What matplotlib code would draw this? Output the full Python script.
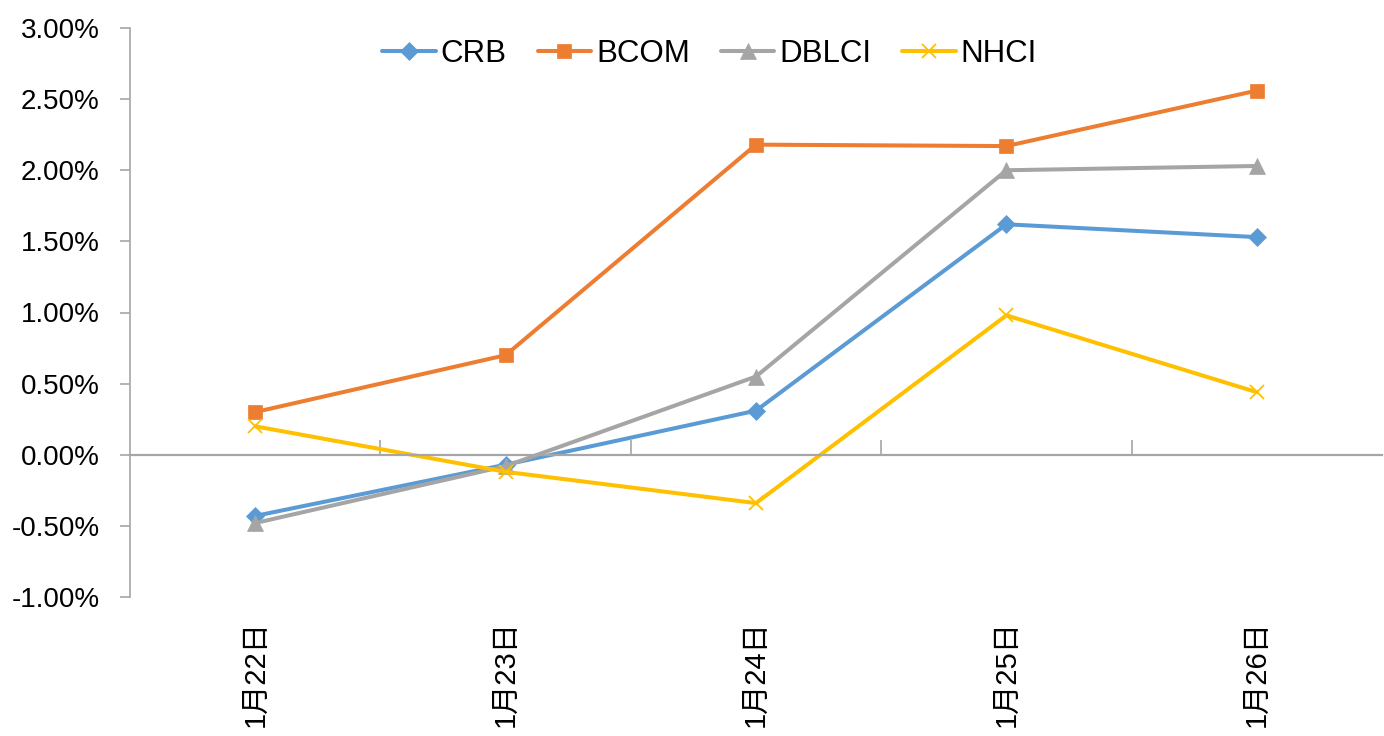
import matplotlib
matplotlib.use("Agg")
import matplotlib.pyplot as plt
from matplotlib.ticker import FuncFormatter, FixedLocator

categories = ["1月22日", "1月23日", "1月24日", "1月25日", "1月26日"]
crb = [-0.43, -0.07, 0.31, 1.62, 1.53]
bcom = [0.30, 0.70, 2.18, 2.17, 2.56]
dblci = [-0.48, -0.08, 0.55, 2.00, 2.03]
nhci = [0.20, -0.12, -0.34, 0.98, 0.44]
yticks = [-1.0, -0.5, 0.0, 0.5, 1.0, 1.5, 2.0, 2.5, 3.0]

plt.rcParams['font.family'] = ['Liberation Sans', 'Noto Sans CJK SC', 'DejaVu Sans']

W, H = 1384, 736
fig = plt.figure(figsize=(W / 100, H / 100), dpi=100)
ax = fig.add_axes([130 / W, 1 - 597 / H, (1382 - 130) / W, (597 - 28) / H])

x = list(range(len(categories)))
series = [
    ("CRB", crb, "#5B9BD5", "D", 9.5),
    ("BCOM", bcom, "#ED7D31", "s", 10),
    ("DBLCI", dblci, "#A5A5A5", "^", 11),
    ("NHCI", nhci, "#FFC000", "x", 10),
]
for name, vals, c, m, ms in series:
    ax.plot(x, vals, color=c, lw=2.9, marker=m, markersize=ms,
            markeredgewidth=1.3 if m == "x" else 0.5, markeredgecolor=c,
            markerfacecolor=c, label=name, solid_capstyle="round")

ax.set_xlim(-0.5, len(categories) - 0.5)
ax.set_ylim(-1.0, 3.0)
ax.set_yticks(yticks)
ax.yaxis.set_major_formatter(FuncFormatter(lambda v, p: f"{v:.2f}%"))

gray = "#A6A6A6"
for s in ["top", "right"]:
    ax.spines[s].set_visible(False)
ax.spines["left"].set_color(gray)
ax.spines["left"].set_linewidth(1.2)
ax.spines["bottom"].set_position(("data", 0))
ax.spines["bottom"].set_color(gray)
ax.spines["bottom"].set_linewidth(1.6)

ax.tick_params(axis="y", direction="out", length=7, width=1.2, color=gray,
               labelsize=20, pad=15, labelcolor="black")
# category boundary ticks on zero line
bounds = [i - 0.5 for i in range(len(categories) + 1)]
ax.xaxis.set_major_locator(FixedLocator(bounds[1:-1]))
ax.tick_params(axis="x", direction="in", length=11, width=1.2, color=gray,
               labelbottom=False)

sec = ax.secondary_xaxis("bottom")
sec.set_xticks(x)
sec.set_xticklabels(categories, rotation=90, va="top", ha="center")
sec.tick_params(length=0, labelsize=21, pad=17)
sec.spines["bottom"].set_visible(False)

leg = ax.legend(loc="upper center", bbox_to_anchor=(0.463, 1.03), ncol=4,
                frameon=False, fontsize=22.5, handlelength=1.7,
                handletextpad=0.16, columnspacing=1.0)

fig.savefig("out.png", dpi=100)
